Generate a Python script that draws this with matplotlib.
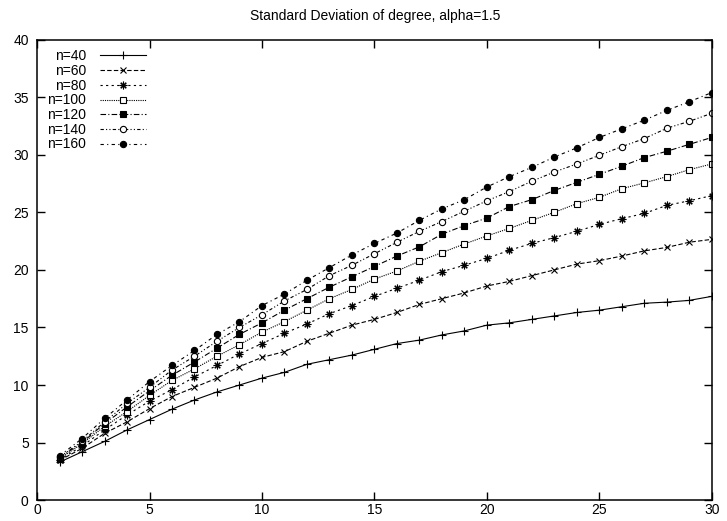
import matplotlib
matplotlib.use("Agg")
import matplotlib.pyplot as plt
import numpy as np

plt.rcParams['font.family'] = ['Liberation Sans', 'DejaVu Sans']

# x: 1..30
x = np.arange(1, 31)

n40 = [3.3, 4.2, 5.1, 6.1, 7.0, 7.9, 8.7, 9.4, 10.0, 10.6,
       11.1, 11.8, 12.2, 12.6, 13.1, 13.6, 13.9, 14.35, 14.7, 15.2,
       15.4, 15.7, 16.0, 16.3, 16.5, 16.8, 17.1, 17.2, 17.35, 17.7]
n60 = [3.45, 4.5, 5.8, 6.8, 7.95, 9.0, 9.8, 10.6, 11.6, 12.4,
       12.9, 13.8, 14.5, 15.2, 15.7, 16.3, 17.0, 17.5, 18.0, 18.6,
       19.0, 19.5, 20.0, 20.5, 20.8, 21.2, 21.65, 21.95, 22.4, 22.65]
n80 = [3.5, 4.7, 6.1, 7.4, 8.6, 9.6, 10.7, 11.7, 12.7, 13.6,
       14.5, 15.3, 16.2, 16.9, 17.7, 18.4, 19.1, 19.85, 20.4, 21.0,
       21.7, 22.3, 22.8, 23.35, 23.95, 24.45, 24.9, 25.6, 26.0, 26.45]
n100 = [3.6, 4.9, 6.4, 7.7, 9.1, 10.4, 11.4, 12.5, 13.5, 14.6,
        15.5, 16.5, 17.5, 18.3, 19.2, 19.9, 20.75, 21.5, 22.25, 22.95,
        23.6, 24.3, 25.0, 25.75, 26.3, 27.05, 27.55, 28.1, 28.7, 29.2]
n120 = [3.7, 5.0, 6.65, 8.1, 9.5, 10.85, 12.0, 13.2, 14.4, 15.4,
        16.5, 17.5, 18.5, 19.4, 20.3, 21.2, 22.0, 23.1, 23.85, 24.5,
        25.5, 26.1, 26.9, 27.6, 28.3, 29.0, 29.75, 30.3, 30.9, 31.5]
n140 = [3.75, 5.1, 6.8, 8.4, 9.8, 11.3, 12.5, 13.8, 15.0, 16.1,
        17.3, 18.3, 19.5, 20.4, 21.4, 22.4, 23.35, 24.2, 25.1, 26.0,
        26.8, 27.7, 28.5, 29.2, 29.95, 30.7, 31.4, 32.3, 32.9, 33.6]
n160 = [3.85, 5.35, 7.1, 8.7, 10.3, 11.7, 13.0, 14.4, 15.5, 16.9,
        17.9, 19.1, 20.2, 21.3, 22.3, 23.2, 24.3, 25.3, 26.1, 27.2,
        28.1, 28.9, 29.8, 30.6, 31.5, 32.25, 33.0, 33.85, 34.6, 35.4]

series = [n40, n60, n80, n100, n120, n140, n160]
labels = ['n=40', 'n=60', 'n=80', 'n=100', 'n=120', 'n=140', 'n=160']

# gnuplot-like styles: (dashes, marker, marker face, marker size)
styles = [
    (None, '+', 'none', 5.5),
    ((4, 2), 'x', 'none', 5),
    ((2, 3), (8, 2, 0), 'none', 5.5),
    ((1, 1), 's', 'white', 4.5),
    ((5, 2, 1, 2), 's', 'black', 4.5),
    ((3, 2, 1, 2, 1, 2), 'o', 'white', 4.5),
    ((3, 3, 1, 3), 'o', 'black', 4.5),
]

fig = plt.figure(figsize=(7.27, 5.21), dpi=100)
ax = fig.add_axes([0.051, 0.040, 0.928, 0.884])

for y, lab, (dash, mk, fc, ms) in zip(series, labels, styles):
    line, = ax.plot(x, y, color='black', linewidth=0.8, marker=mk,
                    markersize=ms, markerfacecolor=fc, markeredgecolor='black',
                    markeredgewidth=0.8, label=lab)
    if dash is not None:
        line.set_dashes(dash)

ax.set_xlim(0, 30)
ax.set_ylim(0, 40)
ax.set_xticks(range(0, 31, 5))
ax.set_yticks(range(0, 41, 5))
ax.tick_params(axis='both', direction='in', length=6, width=1, top=True,
               right=True, labelsize=10)
ax.tick_params(axis='x', pad=2)
ax.tick_params(axis='y', pad=6)
for sp in ax.spines.values():
    sp.set_linewidth(1.1)

# gnuplot centres the title on the canvas
fig.text(0.516, 0.969, 'Standard Deviation of degree, alpha=1.5',
         fontsize=10, ha='center', va='center')

leg = ax.legend(loc='upper left', frameon=False, markerfirst=False,
                fontsize=10, handlelength=3.3, labelspacing=0.05,
                borderaxespad=0.3, handletextpad=1.0)
for t in leg.get_texts():
    t.set_ha('right')
leg._legend_box.align = 'right'

fig.savefig('out.png', dpi=100)
